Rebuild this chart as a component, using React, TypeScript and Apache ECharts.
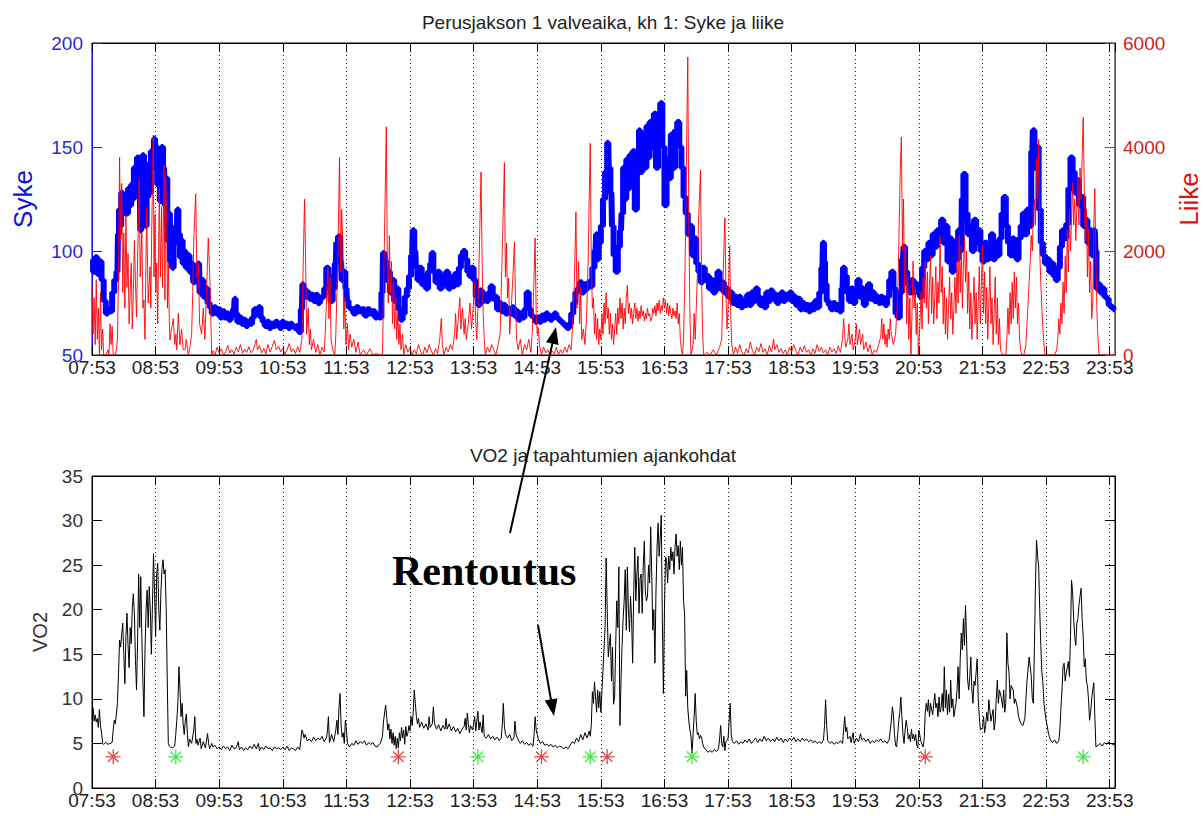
import React, { useEffect, useRef } from "react";
import * as echarts from "echarts";

// minutes since 07:53
const xTickLabelsStart = 7 * 60 + 53;

const syke: number[][] = [
[0,96],[2,90],[4,97],[6,89],[8,95],[10,86],[12,76],[14,70],[16,72],[18,71],[20,80],[22,86],[24,90],[25,108],[26,120],[27,112],[28,128],[30,118],[31,124],[33,118],[35,130],[36,122],[38,132],[39,125],[40,140],[42,128],[43,145],[45,138],[46,110],[47,125],[48,146],[50,130],[51,112],[52,126],[54,142],[55,128],[56,148],[58,140],[59,154],[60,146],[61,150],[62,132],[63,149],[65,124],[66,150],[68,140],[69,122],[70,135],[72,105],[73,118],[74,95],[75,108],[76,92],[78,104],[80,112],[81,120],[82,108],[84,97],[85,105],[86,94],[88,100],[89,92],[91,98],[93,90],[95,94],[96,85],[98,92],[99,88],[101,94],[102,80],[104,86],[106,78],[108,82],[110,75],[112,73],[114,70],[116,73],[118,70],[120,72],[122,68],[124,71],[126,68],[128,70],[130,67],[132,69],[134,72],[135,77],[136,70],[138,66],[140,68],[142,65],[144,67],[146,64],[148,66],[150,65],[152,68],[154,72],[156,70],[158,73],[160,68],[162,66],[164,64],[166,66],[168,63],[170,65],[172,64],[174,66],[176,65],[178,63],[180,66],[182,64],[184,65],[186,63],[188,65],[190,64],[192,63],[194,64],[196,61],[198,72],[199,84],[200,82],[202,78],[204,80],[206,77],[208,79],[210,76],[212,79],[214,75],[216,77],[218,78],[220,82],[222,92],[224,88],[226,76],[228,82],[230,94],[231,104],[233,107],[235,95],[236,86],[238,90],[240,82],[241,76],[243,73],[245,72],[248,70],[250,73],[253,71],[256,72],[258,69],[261,72],[263,70],[266,71],[268,68],[270,69],[272,68],[274,80],[275,99],[277,95],[279,86],[280,90],[282,80],[284,86],[286,76],[288,82],[290,72],[292,67],[294,70],[296,78],[298,82],[300,88],[302,98],[303,110],[305,100],[306,92],[308,86],[310,92],[312,84],[314,88],[316,82],[318,90],[320,94],[321,99],[323,90],[325,85],[327,90],[329,82],[331,88],[333,84],[335,90],[337,82],[339,87],[341,83],[343,89],[345,84],[347,92],[349,98],[351,100],[353,96],[355,90],[357,88],[359,92],[361,86],[363,78],[365,74],[367,81],[369,76],[371,79],[373,76],[375,80],[377,83],[379,77],[381,78],[383,72],[385,75],[387,71],[389,74],[391,70],[393,72],[395,70],[397,73],[399,69],[401,71],[403,67],[405,70],[407,68],[409,72],[411,80],[413,72],[415,69],[417,68],[419,66],[421,68],[423,66],[425,69],[427,67],[429,70],[431,68],[433,67],[435,69],[437,70],[439,68],[441,67],[443,66],[445,65],[447,64],[449,63],[451,65],[453,70],[455,75],[457,80],[459,82],[461,85],[463,80],[465,84],[467,82],[469,85],[471,83],[473,92],[475,100],[476,108],[477,96],[479,104],[481,112],[483,125],[485,138],[487,152],[488,140],[490,128],[491,112],[493,98],[495,90],[497,102],[499,110],[500,118],[502,140],[503,125],[505,144],[506,130],[508,146],[509,132],[511,148],[513,120],[515,142],[517,158],[518,138],[520,156],[522,140],[524,160],[525,145],[527,162],[529,150],[531,166],[533,140],[535,158],[537,171],[539,150],[541,122],[543,144],[545,135],[547,156],[549,140],[551,158],[553,162],[555,150],[557,140],[559,126],[561,118],[563,108],[565,112],[567,98],[569,106],[571,94],[573,90],[575,85],[577,92],[579,86],[581,88],[583,82],[585,86],[587,80],[589,84],[591,90],[593,82],[595,85],[597,80],[599,82],[601,78],[603,80],[605,75],[607,78],[609,74],[611,78],[613,73],[615,76],[617,74],[619,79],[621,74],[623,80],[625,76],[627,82],[629,78],[631,74],[633,77],[635,73],[637,80],[639,76],[641,81],[643,77],[645,79],[647,75],[649,78],[651,80],[653,76],[655,79],[657,77],[659,80],[661,76],[663,78],[665,74],[667,77],[669,72],[671,75],[673,72],[675,74],[677,71],[679,74],[681,72],[683,76],[685,73],[687,80],[689,92],[690,104],[691,95],[692,84],[694,76],[696,74],[698,72],[700,75],[702,72],[704,74],[706,71],[708,82],[709,92],[711,88],[713,80],[715,76],[717,82],[719,75],[721,80],[723,86],[725,78],[727,82],[729,74],[731,78],[733,84],[735,77],[737,80],[739,76],[741,78],[743,75],[745,78],[747,76],[749,74],[751,78],[753,86],[755,90],[757,82],[759,70],[761,68],[763,80],[765,96],[766,102],[768,90],[770,84],[772,80],[774,86],[776,80],[778,84],[780,82],[782,78],[784,92],[786,100],[788,96],[790,104],[792,98],[794,108],[796,102],[798,110],[800,106],[802,115],[804,104],[806,112],[808,95],[810,106],[812,90],[814,104],[816,96],[818,110],[820,100],[821,125],[823,137],[825,118],[827,108],[829,112],[831,100],[833,115],[835,104],[837,110],[839,100],[841,95],[843,104],[845,96],[847,100],[849,108],[851,96],[853,104],[855,98],[857,106],[859,118],[861,126],[863,112],[865,104],[867,98],[869,106],[871,100],[873,96],[875,106],[877,112],[879,118],[881,108],[883,120],[885,112],[887,148],[888,158],[890,140],[892,150],[894,120],[896,104],[898,98],[900,94],[902,96],[904,90],[906,94],[908,88],[910,86],[912,92],[914,102],[916,110],[918,106],[920,113],[922,130],[924,145],[926,138],[928,128],[930,134],[932,122],[934,126],[936,112],[938,115],[940,104],[942,110],[944,98],[946,110],[947,100],[948,82],[950,84],[952,80],[954,82],[956,78],[958,77],[960,74],[962,73],[965,72]
];

const liike: number[][] = [
[0,1300],[1,400],[2,1100],[3,200],[4,1450],[5,300],[6,900],[7,0],[8,1200],[9,100],[10,500],[11,0],[13,0],[15,100],[16,0],[17,600],[18,200],[19,550],[20,0],[22,0],[23,100],[24,300],[25,1500],[26,3800],[27,2200],[28,3300],[29,1200],[30,2350],[31,900],[32,2700],[33,1300],[34,1950],[35,600],[36,1200],[37,1770],[38,500],[39,1200],[40,2200],[41,1400],[42,730],[43,1800],[44.5,3370],[45.5,1500],[47,2350],[48,900],[49,1060],[50,300],[51.5,2850],[53,1000],[54.7,1700],[55.5,900],[56.3,2350],[57.8,4230],[58.5,1500],[59.4,2700],[60.2,1200],[61,1770],[62,600],[63.5,3200],[64.5,1500],[65.7,2850],[66.5,1300],[67.2,2350],[68,3650],[68.8,1060],[69.5,3400],[70.4,2600],[71.2,900],[72,1770],[73,600],[73.5,290],[75,500],[76.7,700],[78,200],[79.2,400],[80,100],[81.4,800],[83,200],[84.5,500],[86,100],[87.7,100],[89,300],[90.8,0],[92,100],[94,400],[95,1200],[96,2200],[97.8,3100],[99,1500],[100.3,1770],[101.5,600],[103.4,400],[105,900],[106.5,300],[108,1200],[109.7,2250],[111.3,1400],[112.9,0],
[114,80],[116,0],[118,150],[120,40],[122,120],[124,0],[126,60],[128,180],[130,40],[132,100],[134,20],[136,150],[138,60],[140,200],[142,30],[144,110],[146,50],[148,160],[150,40],[152,90],[154,220],[155,300],[156,100],[158,180],[160,40],[162,130],[164,20],[166,200],[168,60],[170,160],[172,280],[174,100],[176,170],[178,60],[180,130],[182,20],[184,100],[186,220],[188,60],[190,120],[192,30],[194,160],[196,50],[198,300],[199,1500],[200.5,3000],[201.5,1800],[202.5,400],[204,900],[205,200],[206,500],[207,100],[209,300],[211,50],[213,200],[215,0],[217,150],[219,60],[220,400],[221.5,1200],[222.5,1700],[223.5,700],[224.5,1500],[225.5,300],[227,100],[229,0],[230,400],[231,1200],[232,2000],[233.5,3800],[234.5,1600],[235.5,2800],[236.7,2100],[237.5,500],[238.5,1100],[239.5,200],[241,600],[242,100],[243.5,400],[245,150],[247,300],[249,50],[251,250],[253,0],[256,100],[259,0],[262,120],[265,0],[268,30],[271,0],[274,0],[275,1200],[276.5,3000],[277.6,4390],[278.5,2000],[279.5,1000],[280.5,2300],[281.5,1200],[282.5,1800],[283.5,600],[284.5,1400],[285.5,500],[286.5,1100],[287.5,300],[288.5,800],[289.5,200],[290.5,600],[291.5,100],[293,400],[294,0],[296,200],[298,50],[300,150],[302,0],[304,100],[306,20],[308,200],[310,60],[312,0],[314,150],[316,40],[318,200],[320,80],[322,0],[324,120],[326,30],[328,300],[329.5,700],[330.5,200],[332,0],[334,150],[336,60],[338,200],[340,100],[342,400],[343,800],[344,300],[345.5,700],[347,1100],[348,500],[349.5,900],[351,400],[352,700],[353,300],[355,600],[356.5,1000],[358,500],[359.5,900],[361,1400],[362,600],[363,300],[364.5,1200],[366,2600],[367,3520],[368,1800],[369,800],[370,300],[371,0],[373,150],[375,50],[377,200],[379,100],[381,0],[383,200],[385,400],[386.5,1600],[388,2800],[389,3700],[390,1500],[391,2150],[392,1100],[393,1480],[394,400],[395.5,900],[397,1500],[398.5,2170],[399.5,1000],[400.5,300],[402,100],[404,300],[406,0],[408,200],[410,100],[412,300],[414,50],[415.5,500],[417,1500],[418,2250],[419,800],[420,400],[421,520],[422,200],[424,0],[426,150],[428,40],[430,100],[432,0],[434,80],[436,20],[438,150],[440,0],[442,100],[444,30],[446,150],[448,50],[450,200],[452,100],[453.5,600],[455,1400],[456.5,2750],[457.5,900],[459,1800],[460,600],[461,1300],[462,300],[463.5,500],[465,200],[466.5,700],[468,1800],[469,3000],[470,4070],[471,1800],[472,900],[473,1100],[474,400],[475,800],[476,300],[477,700],[478,200],[479,500],[480,300],[481,800],[482,400],[483,1000],[484,600],[485,1200],[486,700],[487,900],[488,400],[489,800],[490,300],[491,600],[492,200],[493,500],[494,800],[495,400],[496,900],[497,600],[498,1100],[499,700],[500,1000],[501,500],[502,900],[503,600],[504,1100],[505,1340],[506,800],[507,1000],[508,700],[509,900],[510,600],[511,800],[512,1000],[513,700],[514,900],[515,650],[516,850],[517,700],[518,950],[519,750],[520,850],[521,650],[522,800],[523,700],[524,900],[525,750],[526,800],[527,650],[528,700],[529,900],[530,800],[531,950],[532,750],[533,1000],[534,850],[535,1050],[536,800],[537,950],[538,850],[539,1100],[540,900],[541,1050],[542,800],[543,1000],[544,750],[545,950],[546,800],[547,700],[548,900],[549,750],[550,850],[551,700],[552,1000],[553,600],[554,800],[555,300],[556,100],[557,0],[558,300],[559,1200],[560,2500],[561,4200],[562,5730],[563,2500],[564,800],[565,0],[567,200],[568,800],[569,300],[570,900],[571,1500],[572,2500],[573,3000],[574,3560],[575,1500],[576,400],[577,0],[580,50],[583,0],[586,100],[589,0],[592,150],[594,300],[595,1200],[596,2000],[597,2640],[598,1200],[599,500],[600,900],[601.5,2100],[602.5,800],[603.5,200],[605,0],[607,150],[609,30],[611,200],[613,60],[615,0],[617,120],[619,40],[621,250],[623,80],[625,0],[627,150],[629,60],[631,220],[633,50],[635,120],[637,0],[639,180],[641,60],[643,300],[644,100],[646,200],[648,50],[650,120],[652,30],[654,100],[656,0],[658,150],[660,60],[662,200],[664,80],[666,0],[668,150],[670,60],[672,180],[674,50],[676,100],[678,0],[680,120],[682,30],[684,200],[686,70],[688,150],[690,40],[692,100],[694,0],[696,150],[698,60],[700,120],[702,30],[704,180],[706,50],[708,300],[709,700],[710,400],[711,150],[713,300],[714,600],[715,200],[717,400],[718,100],[720,300],[721,600],[722,200],[724,500],[725,200],[727,400],[728,100],[730,250],[732,60],[734,200],[736,0],[738,100],[740,50],[742,200],[744,350],[745,700],[746,300],[747,600],[748,200],[749,400],[750,150],[751,500],[752,300],[753,700],[754,400],[756,200],[758,400],[759.5,900],[760.5,1500],[761.5,2600],[762.5,3600],[763.5,4190],[764.5,2000],[765.5,3000],[766.5,1200],[767.5,2100],[768.5,600],[769.5,1500],[770.5,300],[771.5,1100],[772.5,0],[773.5,800],[774.5,1800],[775.5,900],[776.5,1300],[777.5,400],[778.5,1000],[779.5,0],[781,600],[782,1200],[783,500],[784,1500],[785,1000],[786,1800],[787,900],[788,1600],[789,600],[790,1300],[791,1900],[792,800],[793,1500],[794,600],[795,1100],[796,1700],[797,700],[798,1400],[799,1000],[800,2300],[801,1200],[802,1700],[803,600],[804,1300],[805,400],[806,1100],[807,300],[808,900],[809,1500],[810,700],[811,1200],[812,400],[813,900],[814,1500],[815,800],[816,1800],[817,1000],[818,2300],[819,1200],[820,2100],[821,900],[822,1700],[823,2300],[824,1400],[825,2000],[826,800],[827,1600],[828,500],[829,1200],[830,300],[831,900],[832,1500],[833,600],[834,1200],[835,300],[836,1000],[837,1700],[838,600],[839,1400],[840,2100],[841,800],[842,1600],[843,600],[844,1300],[845,300],[846,1000],[847,1700],[848,600],[849,1100],[850,200],[851,800],[852,1500],[853,400],[854,1100],[855,200],[856,700],[857,100],[859,0],[862,0],[863,300],[864,900],[865,400],[866,1200],[867,600],[868,1400],[869,700],[870,1600],[871,900],[872,1500],[873,600],[874,1000],[875,300],[876,100],[877,0],[879,0],[881,200],[882,600],[883,1000],[884,1400],[885,1800],[886,2300],[887,2000],[888,2800],[889,3000],[890,2500],[891,3800],[892,3000],[893,4150],[894,2000],[895,1400],[896,900],[897,500],[898,200],[899,0],[902,0],[905,0],[908,0],[910,100],[911,300],[912,700],[913,400],[914,1000],[915,600],[916,1400],[917,800],[918,1900],[919,1200],[920,2400],[921,1600],[922,2800],[923,2000],[924,2600],[925,3300],[926,2500],[927,3000],[928,2200],[929,2800],[930,3400],[931,2500],[932,3600],[933,3000],[934,3800],[935,4570],[936,3200],[937,2200],[938,2800],[939,1500],[940,2400],[941,1200],[942,1800],[943,700],[944,1000],[945,2500],[946,3200],[947,1800],[948,800],[949,300],[950,0],[955,0],[960,0],[965,0]
];

const vo2: number[][] = [
[0,7.8],[1,9.0],[2,7.5],[3,8.2],[4,7.4],[5,7.8],[6,6.8],[7,8.8],[8,7.0],[9,6.2],[10,5.0],[11,4.9],[13,5.1],[15,4.9],[17,5.0],[19,5.1],[20,6.5],[21,7.6],[22,7.2],[23,8.3],[24,9.5],[25,12.8],[26,16.6],[27,15.8],[28,17.2],[29,18.5],[30,15.0],[31,11.7],[32,17.0],[33,19.6],[34,16.0],[35,13.5],[36,18.0],[37,16.2],[38,20.2],[39,21.8],[40,19.5],[41,14.3],[42,11.0],[43,16.5],[44,24.0],[45,18.0],[46,23.7],[47,17.0],[48,12.0],[49,8.0],[50,15.5],[51,20.0],[52,22.2],[53,18.0],[54,22.6],[55,20.0],[56,15.0],[57,20.5],[58,26.3],[59,22.0],[60,17.0],[61,24.0],[62,25.2],[63,20.0],[64,17.7],[65,22.0],[66,24.5],[67,25.6],[68,24.0],[69,24.5],[70,20.0],[71,12.0],[72,5.0],[73,4.7],[74,4.6],[76,4.5],[78,4.7],[79,6.0],[80,7.6],[81,9.5],[82,13.6],[83,11.0],[84,8.0],[85,9.5],[86,7.2],[87,6.0],[88,7.5],[89,8.3],[90,6.0],[91,4.6],[92,5.5],[94,5.0],[96,6.5],[97,8.0],[98,5.0],[99,5.5],[100,4.8],[102,5.6],[103,4.4],[105,5.2],[107,4.5],[108,5.3],[109,6.1],[110,5.0],[111,4.4],[113,5.0],[114,4.6],[116,4.8],[118,4.4],[120,4.6],[122,4.3],[124,4.7],[126,4.4],[128,4.6],[130,4.2],[132,4.8],[134,4.4],[136,4.5],[138,5.2],[139,4.3],[141,4.6],[143,4.2],[145,4.5],[147,4.3],[149,4.7],[151,4.4],[153,4.9],[155,4.4],[157,5.0],[158,4.2],[160,4.6],[162,4.3],[164,4.7],[166,4.4],[168,4.5],[170,4.2],[172,4.6],[174,4.4],[176,4.5],[178,4.3],[180,4.6],[182,4.3],[184,4.7],[186,4.2],[188,4.5],[190,4.4],[192,4.2],[194,4.6],[196,4.3],[198,6.5],[199,6.2],[200,5.6],[201,6.0],[203,5.3],[205,5.5],[207,5.2],[209,5.7],[211,5.3],[213,5.6],[215,5.4],[217,5.8],[219,5.2],[221,5.6],[222,6.2],[223,8.0],[224,5.1],[225,5.5],[226,6.0],[228,5.2],[230,6.5],[231,7.6],[232,6.0],[233,9.0],[234,10.6],[235,7.0],[236,5.7],[237,6.2],[238,5.0],[239,7.6],[240,6.5],[241,5.0],[243,4.6],[245,5.0],[247,4.8],[249,5.3],[251,4.9],[253,5.2],[255,5.0],[257,5.3],[259,4.8],[261,5.1],[263,4.9],[265,5.1],[267,4.7],[269,4.6],
[270,4.8],[272,5.0],[274,5.8],[275,7.5],[277,9.3],[278,8.0],[279,6.5],[280,7.2],[281,5.5],[282,6.6],[283,5.0],[284,6.2],[285,4.8],[286,5.8],[287,4.4],[288,5.6],[289,4.5],[290,6.2],[291,5.3],[292,6.8],[293,5.6],[294,6.5],[295,4.9],[296,6.9],[297,5.8],[298,6.2],[299,7.0],[300,6.4],[301,8.0],[302,7.0],[303,8.5],[304,11.0],[305,9.5],[306,8.0],[307,7.2],[308,7.8],[309,6.8],[311,7.4],[313,6.7],[315,7.2],[317,6.5],[318,8.0],[319,6.8],[321,7.2],[322,9.1],[323,7.3],[325,6.6],[327,7.1],[329,6.4],[331,7.0],[333,6.6],[334,7.8],[335,6.6],[337,7.2],[339,6.4],[341,6.9],[343,6.3],[345,6.7],[347,6.1],[349,6.6],[351,6.9],[352,7.8],[353,6.5],[354,8.4],[355,7.2],[356,6.2],[357,7.0],[359,6.5],[361,8.0],[362,6.4],[364,8.6],[365,6.5],[366,7.4],[368,6.2],[369,8.2],[370,5.8],[372,5.6],[374,6.0],[376,5.5],[378,5.8],[380,5.4],[382,5.7],[384,5.3],[386,5.6],[387,7.0],[388,9.5],[389,7.0],[390,6.0],[392,5.6],[394,6.0],[396,5.3],[398,5.6],[399,7.5],[400,6.0],[402,5.4],[404,5.0],[406,5.3],[408,4.9],[410,5.1],[412,4.8],[414,5.0],[416,4.7],[417,6.0],[418,8.0],[419,6.5],[420,6.0],[421,5.5],[423,5.0],[425,5.2],[427,4.8],[429,4.9],[431,4.7],[433,4.9],[435,4.6],[437,4.8],[439,4.5],[441,4.7],[443,4.6],[445,4.4],[447,4.6],[449,4.4],[451,4.8],[453,5.2],[455,5.0],[457,5.6],[459,5.2],[461,6.0],[463,5.4],[465,6.2],[467,5.6],[469,6.4],[470,5.8],[471,7.0],[472,10.8],[473,9.5],[474,11.9],[476,8.5],[477,11.0],[478,9.0],[479,10.8],[480,8.5],[482,13.2],[484,18.0],[485,25.8],[486,20.0],[487,14.7],[488,16.0],[489,17.3],[490,12.0],[491,15.8],[492,9.4],[493,10.2],[494,16.0],[495,21.0],[496,18.0],[497,24.8],[498,7.0],[499,12.0],[500,16.0],[501,19.0],[502,21.0],[503,24.5],[504,17.7],[505,24.8],[506,20.0],[507,17.5],[508,21.5],[509,19.0],[510,14.0],[511,22.0],[512,27.0],[513,21.0],[514,24.0],[515,26.0],[516,19.6],[517,23.5],[518,24.0],[519,19.6],[520,25.0],[521,27.7],[522,22.0],[523,21.0],[524,21.5],[525,25.0],[526,23.0],[527,29.3],[528,24.0],[529,17.7],[530,20.0],[531,14.0],[532,22.0],[533,27.0],[534,29.7],[535,26.0],[536,28.0],[537,30.6],[538,19.0],[539,10.6],[540,20.0],[541,25.9],[542,25.6],[543,23.0],[544,26.0],[545,24.5],[546,27.0],[547,25.5],[548,26.5],[549,24.0],[550,27.0],[551,28.5],[552,26.0],[553,27.2],[554,24.5],[555,27.7],[556,25.0],[557,27.0],[558,21.0],[559,19.6],[560,10.3],[561,13.2],[562,9.0],[563,7.5],[564,6.5],[565,5.8],[566,3.9],[567,6.0],[568,8.0],[569,10.6],[570,7.5],[571,6.0],[572,6.2],[573,5.5],[574,5.9],[575,5.7],[576,5.0],[577,4.6],[579,4.3],[581,4.0],[583,4.2],[585,4.0],[587,4.3],[589,4.1],[591,4.4],[592,5.5],[593,7.0],[594,5.0],[595,4.6],[596,5.8],[597,4.2],[598,5.2],[600,5.5],[601,7.5],[602,9.5],[603,6.0],[604,5.2],[606,5.0],[608,5.3],[610,4.9],[612,5.2],[614,5.0],[616,5.4],[618,5.1],[620,5.5],[622,5.0],[624,5.3],[626,5.6],[628,5.1],[630,5.5],[632,5.2],[634,5.8],[636,5.3],[638,5.6],[640,5.2],[642,5.5],[644,5.2],[646,5.7],[648,5.3],[650,5.6],[652,5.1],[654,5.5],[656,5.2],[658,5.6],[660,5.3],[662,5.7],[664,5.2],[666,5.5],[668,5.2],[670,5.6],[672,5.3],[674,5.5],[676,5.2],[678,5.4],[680,5.1],[682,5.3],[684,5.0],[686,5.2],[688,5.0],[690,5.4],[691,7.0],[692,9.9],[693,7.0],[694,5.3],[696,5.0],[698,5.2],[700,4.9],[702,5.1],[704,5.0],[706,5.3],[708,5.0],[709,6.5],[710,8.0],[711,6.3],[712,6.8],[713,5.5],[715,5.8],[716,5.1],[718,6.2],[719,5.0],[721,5.6],[723,5.2],[725,6.1],[726,5.4],[728,5.6],[730,5.2],[732,5.5],[734,5.0],[736,5.3],[738,5.1],[740,5.4],[742,5.2],[744,5.5],[746,5.1],[748,5.3],[750,5.0],[752,5.4],[753,6.5],[754,7.5],[755,9.1],[756,8.2],[757,6.0],[758,4.8],[759,4.6],[760,6.0],[761,7.5],[762,8.5],[763,10.2],[764,8.0],[765,6.0],[766,5.0],[767,6.5],[768,7.6],[769,6.8],[770,5.5],[771,6.0],[772,5.2],[773,6.6],[774,5.5],[775,6.0],[776,5.3],[777,6.0],[778,4.8],[779,4.5],
[780,6.5],[782,5.2],[784,4.6],[785,5.5],[786,8.5],[787,9.5],[788,8.6],[789,9.9],[790,8.0],[791,9.5],[793,8.2],[795,10.6],[796,9.0],[797,9.5],[798,8.0],[799,10.2],[800,8.5],[801,9.0],[802,10.6],[803,8.6],[804,13.6],[805,9.0],[806,11.0],[807,8.2],[808,10.5],[809,8.5],[810,12.1],[811,9.0],[812,10.0],[813,8.0],[815,9.5],[816,11.0],[817,13.6],[818,10.0],[819,14.5],[820,17.4],[821,15.5],[822,19.0],[823,16.0],[824,20.5],[825,16.5],[826,12.1],[827,11.0],[828,12.5],[829,14.7],[830,11.0],[831,9.5],[832,12.0],[833,11.5],[834,13.0],[835,14.5],[836,10.0],[837,8.0],[838,6.5],[840,6.8],[841,8.0],[842,6.2],[843,7.0],[844,8.5],[845,7.5],[846,9.9],[848,7.5],[850,8.8],[851,6.5],[852,7.5],[853,10.0],[854,12.1],[855,9.5],[856,11.0],[858,10.0],[859,9.0],[860,11.0],[861,8.5],[862,9.5],[863,17.4],[864,14.0],[865,13.0],[866,10.0],[867,11.5],[869,11.0],[870,9.5],[871,10.0],[873,9.0],[874,8.0],[876,7.3],[878,7.0],[880,7.8],[881,10.0],[882,12.0],[884,14.7],[886,12.5],[887,10.0],[888,9.5],[889,16.0],[890,23.0],[891,27.8],[892,26.0],[893,24.8],[894,20.0],[895,16.0],[896,13.0],[897,11.8],[898,9.5],[899,8.5],[900,7.6],[901,7.0],[902,6.3],[903,5.8],[904,5.4],[906,5.1],[908,5.4],[910,5.0],[912,5.3],[913,6.5],[914,9.0],[915,11.0],[916,13.6],[917,14.0],[918,12.0],[919,12.9],[920,13.5],[921,14.2],[922,12.5],[923,17.0],[924,23.3],[925,22.0],[926,19.0],[927,17.0],[928,16.0],[929,18.5],[930,19.0],[931,20.5],[932,21.5],[933,22.4],[934,19.0],[935,17.0],[936,13.6],[937,14.5],[938,12.0],[939,11.5],[940,10.0],[941,7.6],[942,8.5],[943,10.0],[944,11.0],[945,11.8],[946,8.0],[947,4.6],[949,4.8],[951,5.0],[953,4.7],[955,5.1],[957,4.9],[959,5.2],[961,5.0],[963,4.9],[965,4.8]
];

const redEvents: number[][] = [[20,3.5],[289,3.5],[424,3.5],[486,3.5],[786,3.5]];
const greenEvents: number[][] = [[79,3.5],[364,3.5],[470,3.5],[566,3.5],[935,3.5]];

const sykeTicks = { min: 50, max: 200, interval: 50 };
const liikeTicks = { min: 0, max: 6000, interval: 2000 };
const vo2Ticks = { min: 0, max: 35, interval: 5 };
const timeRange = { min: 0, max: 965, interval: 60 };

const FONT = "'Liberation Sans', Arial, sans-serif";
const STAR = "path://M0,-1L0,1M-1,0L1,0M-0.7,-0.7L0.7,0.7M-0.7,0.7L0.7,-0.7";

function fmtTime(v: number): string {
  const t = xTickLabelsStart + v;
  const h = Math.floor(t / 60);
  const m = t % 60;
  return String(h).padStart(2, "0") + ":" + String(m).padStart(2, "0");
}
const plain = (v: number) => String(v);

export default function App() {
  const ref = useRef<HTMLDivElement>(null);
  useEffect(() => {
    if (!ref.current) return;
    const chart = echarts.init(ref.current, undefined, { renderer: "svg" });
    const xBottom = (gridIndex: number) => ({
      type: "value", gridIndex, position: "bottom", ...timeRange,
      axisLine: { show: true, onZero: false, lineStyle: { color: "#000", width: 1 } },
      axisTick: { show: true, inside: true, length: 9, lineStyle: { color: "#000" } },
      axisLabel: { show: true, formatter: fmtTime, color: "#222", fontSize: 19, fontFamily: FONT, margin: 3 },
      splitLine: { show: true, lineStyle: { color: "#222", type: [1, 3], width: 1 } },
    });
    const xTop = (gridIndex: number) => ({
      type: "value", gridIndex, position: "top", ...timeRange,
      axisLine: { show: true, onZero: false, lineStyle: { color: "#000", width: 1 } },
      axisTick: { show: true, inside: true, length: 9, lineStyle: { color: "#000" } },
      axisLabel: { show: false },
      splitLine: { show: false },
    });
    const option: any = {
      animation: false,
      backgroundColor: "#fff",
      grid: [
        { left: 92, top: 43, width: 1023, height: 312, show: true, borderColor: "#000", borderWidth: 1, containLabel: false, outerBoundsMode: "none" },
        { left: 92, top: 476, width: 1023, height: 312, show: true, borderColor: "#000", borderWidth: 1, containLabel: false, outerBoundsMode: "none" },
      ],
      xAxis: [xBottom(0), xTop(0), xBottom(1), xTop(1)],
      yAxis: [
        {
          type: "value", gridIndex: 0, position: "left", ...sykeTicks,
          name: "Syke", nameLocation: "middle", nameGap: 56, nameRotate: 90,
          nameTextStyle: { color: "#1010e0", fontSize: 26, fontFamily: FONT },
          axisLine: { show: true, onZero: false, lineStyle: { color: "#1a1ad8", width: 1 } },
          axisTick: { show: true, inside: true, length: 10, lineStyle: { color: "#1a1ad8" } },
          axisLabel: { color: "#2b2bd0", fontSize: 19, fontFamily: FONT, margin: 9, formatter: plain },
          splitLine: { show: false },
        },
        {
          type: "value", gridIndex: 0, position: "right", ...liikeTicks,
          name: "Liike", nameLocation: "middle", nameGap: 61, nameRotate: 90,
          nameTextStyle: { color: "#e01010", fontSize: 26, fontFamily: FONT },
          axisLine: { show: true, onZero: false, lineStyle: { color: "#d42020", width: 1 } },
          axisTick: { show: true, inside: true, length: 10, lineStyle: { color: "#d42020" } },
          axisLabel: { color: "#d42020", fontSize: 19, fontFamily: FONT, margin: 8, formatter: plain },
          splitLine: { show: false },
        },
        {
          type: "value", gridIndex: 1, position: "left", ...vo2Ticks,
          name: "VO2", nameLocation: "middle", nameGap: 42, nameRotate: 90,
          nameTextStyle: { color: "#333", fontSize: 20, fontFamily: FONT },
          axisLine: { show: true, onZero: false, lineStyle: { color: "#000", width: 1 } },
          axisTick: { show: true, inside: true, length: 10, lineStyle: { color: "#000" } },
          axisLabel: { color: "#333", fontSize: 19, fontFamily: FONT, margin: 9, formatter: plain },
          splitLine: { show: false },
        },
        {
          type: "value", gridIndex: 1, position: "right", ...vo2Ticks,
          axisLine: { show: true, onZero: false, lineStyle: { color: "#000", width: 1 } },
          axisTick: { show: true, inside: true, length: 10, lineStyle: { color: "#000" } },
          axisLabel: { show: false },
          splitLine: { show: false },
        },
      ],
      series: [
        {
          type: "line", name: "Syke", xAxisIndex: 0, yAxisIndex: 0, data: syke,
          showSymbol: false, step: "middle", lineStyle: { color: "#0000ff", width: 6 }, z: 2,
        },
        {
          type: "line", name: "Liike", xAxisIndex: 0, yAxisIndex: 1, data: liike,
          showSymbol: false, lineStyle: { color: "#ff0000", width: 1, opacity: 0.9 }, z: 3,
        },
        {
          type: "line", name: "VO2", xAxisIndex: 2, yAxisIndex: 2, data: vo2,
          showSymbol: false, lineStyle: { color: "#000", width: 1 }, z: 2,
        },
        {
          type: "scatter", name: "alku", xAxisIndex: 2, yAxisIndex: 2, data: redEvents,
          symbol: STAR, symbolSize: 15,
          itemStyle: { color: "rgba(0,0,0,0)", borderColor: "#e41b1b", borderWidth: 1.3 }, z: 4,
        },
        {
          type: "scatter", name: "loppu", xAxisIndex: 2, yAxisIndex: 2, data: greenEvents,
          symbol: STAR, symbolSize: 15,
          itemStyle: { color: "rgba(0,0,0,0)", borderColor: "#1ee01e", borderWidth: 1.3 }, z: 4,
        },
      ],
      graphic: [
        { type: "text", x: 603, y: 22, style: { text: "Perusjakson 1 valveaika, kh 1: Syke ja liike", fill: "#222", font: `19px ${FONT}`, align: "center", verticalAlign: "middle" } },
        { type: "text", x: 603, y: 455, style: { text: "VO2 ja tapahtumien ajankohdat", fill: "#222", font: `19px ${FONT}`, align: "center", verticalAlign: "middle" } },
        { type: "text", x: 392, y: 571, z: 10, style: { text: "Rentoutus", fill: "#000", font: `bold 42px 'Liberation Serif', 'Times New Roman', serif`, align: "left", verticalAlign: "middle" } },
        { type: "line", z: 10, shape: { x1: 510, y1: 533, x2: 552.5, y2: 343 }, style: { stroke: "#000", lineWidth: 2 } },
        { type: "polygon", z: 10, shape: { points: [[556, 327], [558.6, 345], [546, 342.2]] }, style: { fill: "#000" } },
        { type: "line", z: 10, shape: { x1: 538, y1: 625, x2: 551, y2: 700 }, style: { stroke: "#000", lineWidth: 2 } },
        { type: "polygon", z: 10, shape: { points: [[554, 716], [557.5, 698.2], [544.7, 700.4]] }, style: { fill: "#000" } },
      ],
    };
    chart.setOption(option);
    return () => chart.dispose();
  }, []);
  return <div ref={ref} style={{ position: "absolute", left: 0, top: 0, width: 1204, height: 816, background: "#fff" }} />;
}
